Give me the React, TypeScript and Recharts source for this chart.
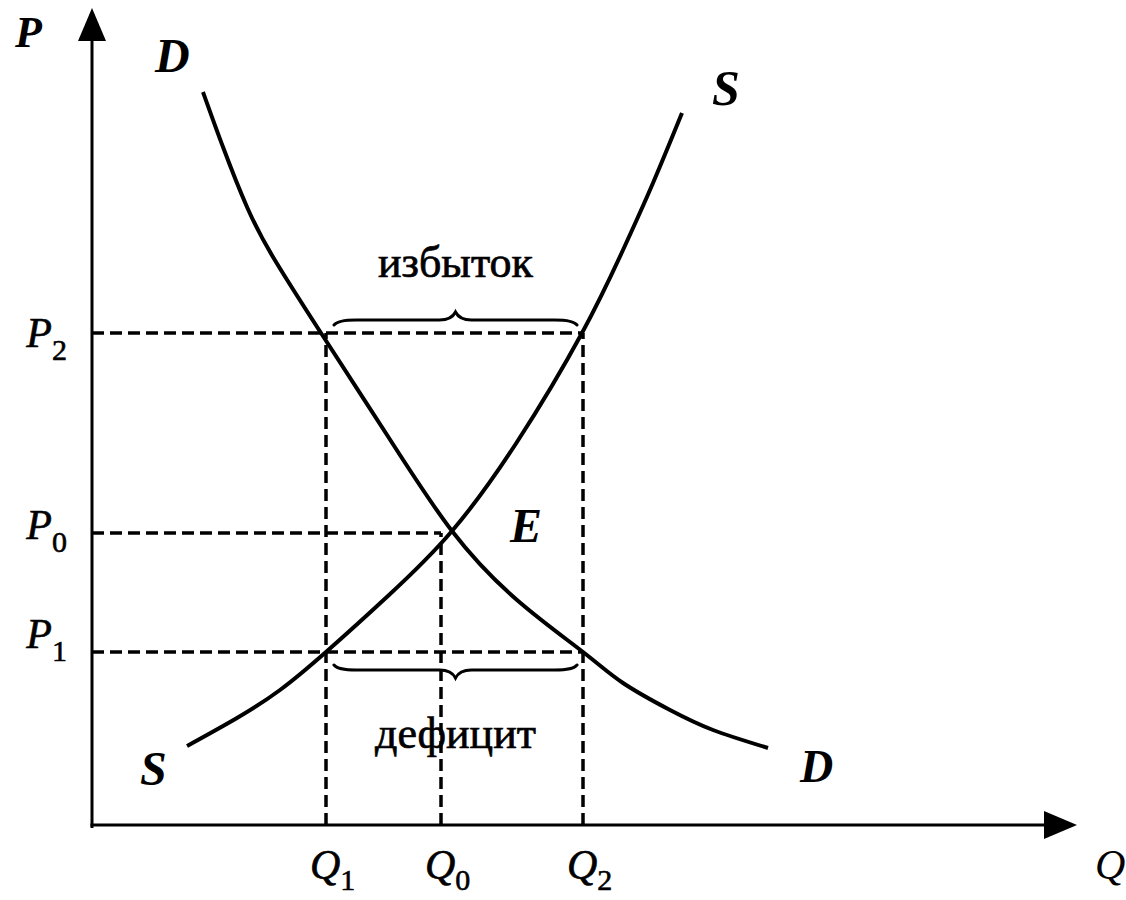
import React from 'react';
import { ComposedChart, Line, XAxis, YAxis, ReferenceLine, ReferenceDot } from 'recharts';

// Demand curve D (quantity, price)
const demandQ = [11.1, 13.1, 15.5, 18.1, 22.9, 29.7, 36.0, 42.5, 49.1, 53.1, 57.8, 62.1, 67.6];
const demandP = [73.3, 67.8, 61.8, 56.8, 49.2, 38.7, 29.4, 22.5, 17.3, 14.2, 11.5, 9.5, 7.7];
// Supply curve S (quantity, price)
const supplyQ = [9.5, 14.5, 18.8, 23.4, 29.7, 36.0, 42.5, 49.0, 53.1, 56.1, 59.0];
const supplyP = [7.9, 10.7, 13.5, 17.3, 23.0, 29.4, 38.3, 49.2, 57.5, 64.2, 71.2];

// Key levels
const Q1 = 23.4;
const Q0 = 34.9;
const Q2 = 49.1;
const P1 = 17.3;
const P0 = 29.2;
const P2 = 49.2;
const E_Q = 36.0;
const E_P = 29.4;

const quantityTicks = [Q1, Q0, Q2];
const quantityTickSubs = ['1', '0', '2'];
const priceTicks = [P1, P0, P2];
const priceTickSubs = ['1', '0', '2'];

const xAxisEnd = 98.5;
const yAxisTop = 81.7;

const surplusText = 'избыток';
const shortageText = 'дефицит';

const FONT = "'Liberation Serif', 'DejaVu Serif', serif";
// label baseline offsets (px) for price tick labels, by index of priceTicks
const priceLabelBaseline = [-4, 6, 14];

const ArrowAxis = (props: any) => {
  const { x1, y1, x2, y2 } = props;
  const dx = x2 - x1;
  const dy = y2 - y1;
  const len = Math.hypot(dx, dy) || 1;
  const ux = dx / len;
  const uy = dy / len;
  const L = 33;
  const W = 14;
  const bx = x2 - ux * L;
  const by = y2 - uy * L;
  const px = -uy;
  const py = ux;
  return (
    <g>
      <line x1={x1} y1={y1} x2={bx + ux * 2} y2={by + uy * 2} stroke="#000" strokeWidth={3} />
      <polygon
        points={`${x2},${y2} ${bx + px * W},${by + py * W} ${bx - px * W},${by - py * W}`}
        fill="#000"
      />
    </g>
  );
};

const makeBrace = (dir: 'up' | 'down', text: string, textOffset: number) => (props: any) => {
  const { x1, y1, x2 } = props;
  const s = dir === 'up' ? -1 : 1;
  const y = y1 + s * 13 + (dir === 'down' ? 5 : 0);
  const a = Math.min(x1, x2) + 8;
  const b = Math.max(x1, x2) - 6;
  const xm = (a + b) / 2;
  const d = [
    `M ${a} ${y - s * 5}`,
    `Q ${a + 4} ${y} ${a + 22} ${y}`,
    `L ${xm - 16} ${y}`,
    `Q ${xm - 4} ${y} ${xm} ${y + s * 8}`,
    `Q ${xm + 4} ${y} ${xm + 16} ${y}`,
    `L ${b - 22} ${y}`,
    `Q ${b - 4} ${y} ${b} ${y - s * 5}`,
  ].join(' ');
  return (
    <g>
      <path d={d} fill="none" stroke="#000" strokeWidth={3} strokeLinecap="round" />
      <text
        x={xm}
        y={y1 + textOffset}
        textAnchor="middle"
        fontFamily={FONT}
        fontSize={44}
        fill="#000"
        stroke="#000"
        strokeWidth={0.7}
      >
        {text}
      </text>
    </g>
  );
};

const makeLabel = (
  t: string,
  dx: number,
  dy: number,
  bold: boolean,
  size: number
) => (props: any) => (
  <text
    x={props.cx + dx}
    y={props.cy + dy}
    fontFamily={FONT}
    fontStyle="italic"
    fontWeight={bold ? 'bold' : 'normal'}
    fontSize={size}
    fill="#000"
  >
    {t}
  </text>
);

const PriceTick = (props: any) => {
  const { x, y, payload, index } = props;
  const i = priceTicks.indexOf(payload.value);
  const k = i >= 0 ? i : index;
  return (
    <text
      x={x - 25}
      y={y + priceLabelBaseline[k]}
      textAnchor="end"
      fontFamily={FONT}
      fill="#000"
      stroke="#000"
      strokeWidth={0.6}
    >
      <tspan fontStyle="italic" fontSize={42}>P</tspan>
      <tspan fontSize={30} dy={13}>{priceTickSubs[k]}</tspan>
    </text>
  );
};

const QuantityTick = (props: any) => {
  const { x, y, payload, index } = props;
  const i = quantityTicks.indexOf(payload.value);
  const k = i >= 0 ? i : index;
  return (
    <text
      x={x - 16}
      y={y + 54}
      textAnchor="start"
      fontFamily={FONT}
      fill="#000"
      stroke="#000"
      strokeWidth={0.6}
    >
      <tspan fontStyle="italic" fontSize={42}>Q</tspan>
      <tspan fontSize={30} dy={11}>{quantityTickSubs[k]}</tspan>
    </text>
  );
};

const dash = { stroke: '#000', strokeWidth: 3.5, strokeDasharray: '12 6' };

export default function App() {
  const demand = demandQ.map((q, i) => ({ q, p: demandP[i] }));
  const supply = supplyQ.map((q, i) => ({ q, p: supplyP[i] }));
  const dFirst = demand[0];
  const dLast = demand[demand.length - 1];
  const sFirst = supply[0];
  const sLast = supply[supply.length - 1];

  return (
    <div style={{ position: 'absolute', left: 0, top: 0, width: 1126, height: 900, background: '#fff' }}>
      <ComposedChart width={1126} height={900} margin={{ top: 5, right: 34, bottom: 15, left: 12 }}>
        <XAxis
          type="number"
          dataKey="q"
          domain={[0, 100]}
          ticks={quantityTicks}
          interval={0}
          axisLine={false}
          tickLine={false}
          tickSize={0}
          tickMargin={0}
          height={60}
          tick={<QuantityTick />}
          allowDataOverflow
        />
        <YAxis
          type="number"
          dataKey="p"
          domain={[0, 82]}
          ticks={priceTicks}
          interval={0}
          axisLine={false}
          tickLine={false}
          tickSize={0}
          tickMargin={0}
          width={80}
          tick={<PriceTick />}
          allowDataOverflow
        />

        {/* dashed guide lines */}
        <ReferenceLine segment={[{ x: 0, y: P2 }, { x: Q2, y: P2 }]} {...dash} ifOverflow="visible" />
        <ReferenceLine segment={[{ x: 0, y: P0 }, { x: Q0, y: P0 }]} {...dash} ifOverflow="visible" />
        <ReferenceLine segment={[{ x: 0, y: P1 }, { x: Q2, y: P1 }]} {...dash} ifOverflow="visible" />
        <ReferenceLine segment={[{ x: Q1, y: 0 }, { x: Q1, y: P2 }]} {...dash} ifOverflow="visible" />
        <ReferenceLine segment={[{ x: Q0, y: 0 }, { x: Q0, y: P0 }]} {...dash} ifOverflow="visible" />
        <ReferenceLine segment={[{ x: Q2, y: 0 }, { x: Q2, y: P2 }]} {...dash} ifOverflow="visible" />

        {/* braces with captions */}
        <ReferenceLine
          segment={[{ x: Q1, y: P2 }, { x: Q2, y: P2 }]}
          ifOverflow="visible"
          shape={makeBrace('up', surplusText, -56)}
        />
        <ReferenceLine
          segment={[{ x: Q1, y: P1 }, { x: Q2, y: P1 }]}
          ifOverflow="visible"
          shape={makeBrace('down', shortageText, 96)}
        />

        {/* axes with arrows */}
        <ReferenceLine segment={[{ x: 0, y: -0.3 }, { x: 0, y: yAxisTop }]} ifOverflow="visible" shape={ArrowAxis} />
        <ReferenceLine segment={[{ x: -0.15, y: 0 }, { x: xAxisEnd, y: 0 }]} ifOverflow="visible" shape={ArrowAxis} />

        <Line
          data={demand}
          dataKey="p"
          type="natural"
          stroke="#000"
          strokeWidth={4}
          dot={false}
          activeDot={false}
          isAnimationActive={false}
        />
        <Line
          data={supply}
          dataKey="p"
          type="natural"
          stroke="#000"
          strokeWidth={4}
          dot={false}
          activeDot={false}
          isAnimationActive={false}
        />

        {/* labels */}
        <ReferenceDot x={0} y={yAxisTop} ifOverflow="visible" shape={makeLabel('P', -77, 39, true, 44)} />
        <ReferenceDot x={xAxisEnd} y={0} ifOverflow="visible" shape={makeLabel('Q', 18, 54, false, 42)} />
        <ReferenceDot x={dFirst.q} y={dFirst.p} ifOverflow="visible" shape={makeLabel('D', -48, -20, true, 48)} />
        <ReferenceDot x={dLast.q} y={dLast.p} ifOverflow="visible" shape={makeLabel('D', 32, 34, true, 46)} />
        <ReferenceDot x={sLast.q} y={sLast.p} ifOverflow="visible" shape={makeLabel('S', 30, -8, true, 50)} />
        <ReferenceDot x={sFirst.q} y={sFirst.p} ifOverflow="visible" shape={makeLabel('S', -47, 39, true, 48)} />
        <ReferenceDot x={E_Q} y={E_P} ifOverflow="visible" shape={makeLabel('E', 58, 11, true, 48)} />
      </ComposedChart>
    </div>
  );
}
